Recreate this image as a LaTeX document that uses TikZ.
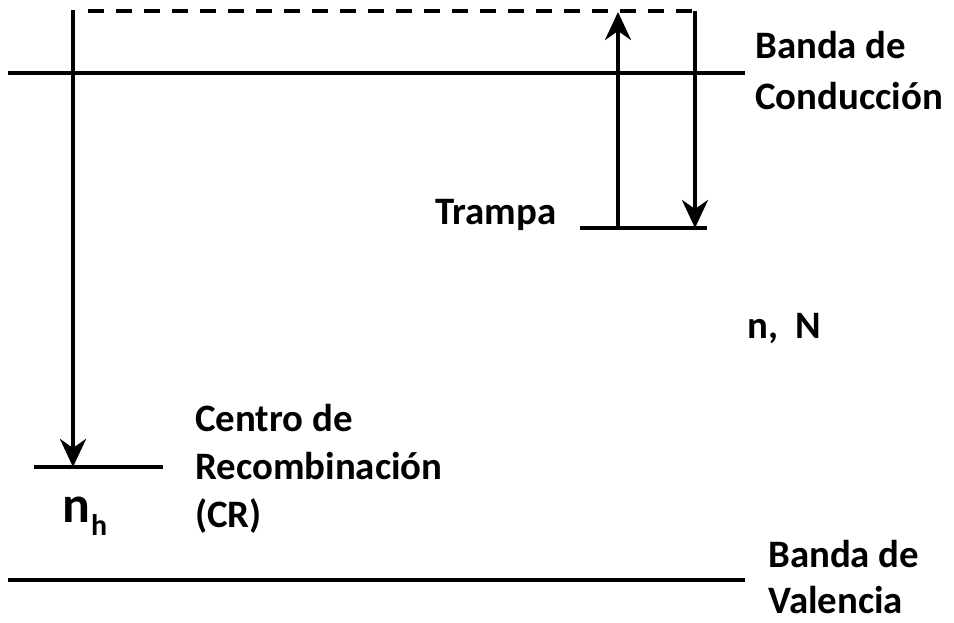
\documentclass[tikz,border=0pt]{standalone}
\usepackage{fontspec}
\setmainfont{Carlito}
\usetikzlibrary{arrows.meta}
\tikzset{
  lbl/.style={anchor=base west,inner sep=0pt,font=\fontsize{39}{39}\selectfont\bfseries},
  level/.style={line width=3.5bp},
  arr/.style={line width=4bp,-{Stealth[length=28bp,width=26bp,inset=9bp]}},
  dashline/.style={line width=4bp,dash pattern=on 16bp off 12bp}
}
\begin{document}
\begin{tikzpicture}[x=1bp,y=-1bp]
\useasboundingbox (0,0) rectangle (954,623);
% levels
\coordinate (cbL) at (8,73);   \coordinate (cbR) at (745,73);
\coordinate (vbL) at (8,580);  \coordinate (vbR) at (745,580);
\coordinate (trL) at (580,228); \coordinate (trR) at (707,228);
\coordinate (crL) at (34,467);  \coordinate (crR) at (163,467);
\draw[level] (cbL) -- (cbR);
\draw[level] (vbL) -- (vbR);
\draw[level] (trL) -- (trR);
\draw[level] (crL) -- (crR);
% transitions
\coordinate (lTop) at (73,10);  \coordinate (lBot) at (73,467);
\coordinate (dS) at (88,11);    \coordinate (rTop) at (695,11);
\coordinate (rBot) at (695,228);
\coordinate (uBot) at (618,228); \coordinate (uTop) at (618,12);
\draw[arr] (lTop) -- (lBot);
\draw[dashline] (dS) -- (rTop);
\draw[arr] (rTop) -- (rBot);
\draw[arr] (uBot) -- (uTop);
% labels
\node[lbl] (bc1) at (755,59) {Banda de};
\node[lbl] (bc2) at (755,110) {Conducción};
\node[lbl] (tr) at (435,225) {Trampa};
\node[lbl] (nN) at (747,338) {n,\ \ N};
\node[lbl] (cr1) at (195,431) {Centro de};
\node[lbl] (cr2) at (195,479) {Recombinación};
\node[lbl] (cr3) at (195,527) {(CR)};
\node[anchor=base west,inner sep=0pt,font=\fontsize{52}{52}\selectfont\bfseries] (nh) at (62,522) {n};
\node[anchor=base west,inner sep=0pt,font=\fontsize{30}{30}\selectfont\bfseries] (h) at (91,535) {h};
\node[lbl] (bv1) at (768,567) {Banda de};
\node[lbl] (bv2) at (768,613) {Valencia};
\end{tikzpicture}
\end{document}
